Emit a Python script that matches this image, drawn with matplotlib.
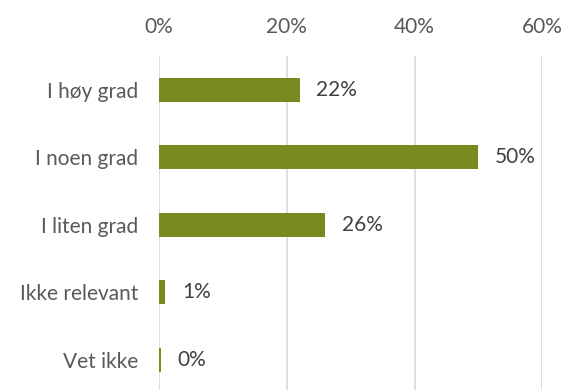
import matplotlib
matplotlib.use("Agg")
import matplotlib.pyplot as plt
from matplotlib.ticker import FuncFormatter

categories = ["I høy grad", "I noen grad", "I liten grad", "Ikke relevant", "Vet ikke"]
values = [22, 50, 26, 1, 0.3]
labels = ["22%", "50%", "26%", "1%", "0%"]
ticks = [0, 20, 40, 60]

BAR = "#778B20"
TXT = "#595959"

plt.rcParams["font.family"] = ["Lato", "DejaVu Sans"]

fig = plt.figure(figsize=(5.66, 3.9), dpi=100)
ax = fig.add_axes([0.281, 0.0, 0.677, 0.856])

y = list(range(len(categories)))
ax.barh(y, values, height=0.36, color=BAR, zorder=3)
for yi, v, lab in zip(y, values, labels):
    ax.text(v + 2.6, yi, lab, va="center", ha="left", fontsize=15, color="#404040")

ax.set_xlim(0, 60)
ax.set_ylim(4.45, -0.5)
ax.set_xticks(ticks)
ax.xaxis.set_major_formatter(FuncFormatter(lambda v, _: f"{v:.0f}%"))
ax.xaxis.tick_top()
ax.set_yticks(y)
ax.set_yticklabels(categories)
ax.tick_params(axis="both", length=0, labelsize=15, labelcolor=TXT)
ax.tick_params(axis="y", pad=15)
ax.tick_params(axis="x", pad=14)
ax.grid(axis="x", color="#D9D9D9", lw=1.2, zorder=0)
for s in ax.spines.values():
    s.set_visible(False)

fig.savefig("out.png", dpi=100)
